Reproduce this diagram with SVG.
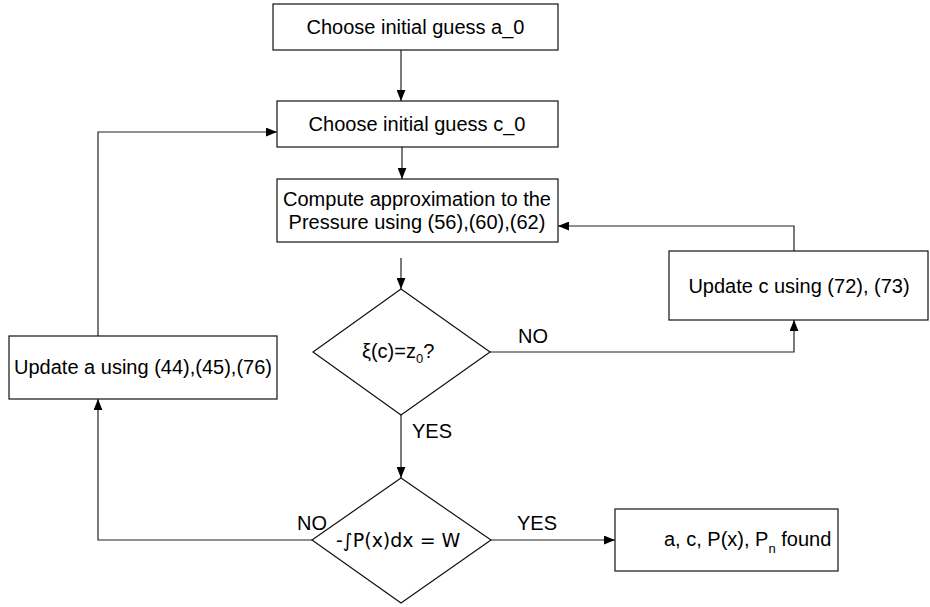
<svg xmlns="http://www.w3.org/2000/svg" width="930" height="607" viewBox="0 0 930 607">
<defs>
<marker id="arr" viewBox="0 0 10 8" refX="10" refY="4" markerWidth="11" markerHeight="9" markerUnits="userSpaceOnUse" orient="auto">
<path d="M0,0 L10,4 L0,8 Z" fill="#000"/>
</marker>
<style>
.box{fill:#fff;stroke:#111;stroke-width:1.2}
.t{font-family:"Liberation Sans",Arial,sans-serif;font-size:20px;fill:#000}
.dj{font-family:"DejaVu Sans",sans-serif;font-size:19px;fill:#000}
.m{text-anchor:middle}
.c{fill:none;stroke:#222;stroke-width:1.2}
.a{marker-end:url(#arr)}
</style>
</defs>
<rect width="930" height="607" fill="#fff"/>
<g id="connectors">
<path class="c a" d="M401,50 V101"/>
<path class="c a" d="M402,147 V179"/>
<path class="c a" d="M401,258 V289"/>
<path class="c a" d="M490,352 H794 V320"/>
<path class="c a" d="M794,251 V226 H558"/>
<path class="c a" d="M401,415 V478"/>
<path class="c a" d="M491,540 H615"/>
<path class="c a" d="M312,540 H98 V399"/>
<path class="c a" d="M98,336 V132 H277"/>
<text class="t" x="518" y="343">NO</text>
<text class="t" x="412" y="438">YES</text>
<text class="t" x="517" y="530">YES</text>
<text class="t" x="297" y="530">NO</text>
</g>
<g id="n1">
<rect class="box" x="273" y="4" width="285" height="46"/>
<text class="t m" x="415.5" y="34">Choose initial guess a_0</text>
</g>
<g id="n2">
<rect class="box" x="277" y="101" width="281" height="46"/>
<text class="t m" x="417" y="131">Choose initial guess c_0</text>
</g>
<g id="n3">
<rect class="box" x="277" y="179" width="281" height="63"/>
<text class="t m" x="417" y="206">Compute approximation to the</text>
<text class="t m" x="417" y="229">Pressure using (56),(60),(62)</text>
</g>
<g id="d1">
<polygon class="box" points="401,289 490,352 401,415 313,352"/>
<text class="t" x="362" y="358">ξ(c)=z<tspan font-size="13" dy="5">0</tspan><tspan dy="-5">?</tspan></text>
</g>
<g id="n4">
<rect class="box" x="669" y="251" width="259" height="69"/>
<text class="t m" x="799" y="293">Update c using (72), (73)</text>
</g>
<g id="n5">
<rect class="box" x="9" y="336" width="268" height="63"/>
<text class="t m" x="143" y="374">Update a using (44),(45),(76)</text>
</g>
<g id="d2">
<polygon class="box" points="401,478 491,540 401,603 312,540"/>
<text class="dj" x="336" y="547">-∫P(x)dx = W</text>
</g>
<g id="n6">
<rect class="box" x="615" y="509" width="223" height="62"/>
<text class="t" x="664" y="546">a, c, P(x), P<tspan font-size="13" dy="7">n</tspan><tspan dy="-7"> found</tspan></text>
</g>
</svg>
